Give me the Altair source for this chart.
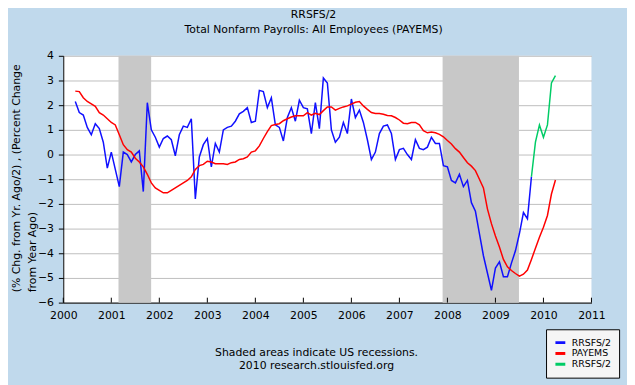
import altair as alt
import pandas as pd

FONT = "DejaVu Sans"

# month index counted from Jan 2000 (0 = Jan 2000)
blue_first = 3
blue_vals = [2.15, 1.7, 1.6, 1.1, 0.8, 1.25, 1.05, 0.5, -0.55, 0.1,
             -0.6, -1.3, 0.1, 0.0, -0.3, 0.0, 0.15, -1.5, 2.1, 1.0,
             0.7, 0.3, 0.65, 0.75, 0.6, -0.05, 0.8, 1.15, 1.1, 1.45,
             -1.8, -0.1, 0.4, 0.65, -0.5, 0.45, 0.1, 1.0, 1.1, 1.15,
             1.35, 1.65, 1.75, 1.9, 1.3, 1.35, 2.6, 2.55, 1.9, 2.3,
             1.2, 1.1, 0.55, 1.5, 1.9, 1.35, 2.2, 1.9, 1.85, 0.85,
             2.1, 1.05, 3.1, 2.9, 1.0, 0.5, 0.7, 1.3, 0.85, 2.25,
             1.5, 1.8, 1.3, 0.6, -0.2, 0.1, 0.85, 1.15, 1.2, 0.85,
             -0.2, 0.2, 0.25, 0.0, -0.2, 0.6, 0.25, 0.2, 0.3, 0.7,
             0.45, 0.45, -0.45, -0.5, -1.05, -1.15, -0.8, -1.3, -1.05, -1.95,
             -2.3, -3.2, -4.1, -4.8, -5.5, -4.6, -4.35, -4.95, -4.95, -4.4,
             -3.9, -3.2, -2.35, -2.6, -0.9]
green_first = 117
green_vals = [-0.9, 0.5, 1.2, 0.7, 1.2, 2.9, 3.2]
red_first = 3
red_vals = [2.57, 2.55, 2.3, 2.15, 2.05, 1.95, 1.7, 1.6, 1.45, 1.3,
            1.2, 0.8, 0.4, 0.2, 0.1, -0.15, -0.3, -0.5, -0.8, -1.15,
            -1.35, -1.45, -1.55, -1.55, -1.45, -1.35, -1.25, -1.15, -1.05, -0.9,
            -0.6, -0.45, -0.4, -0.27, -0.3, -0.37, -0.37, -0.37, -0.4, -0.33,
            -0.3, -0.2, -0.17, -0.1, 0.1, 0.15, 0.35, 0.65, 0.93, 1.17,
            1.22, 1.25, 1.37, 1.45, 1.52, 1.57, 1.57, 1.57, 1.7, 1.6,
            1.67, 1.62, 1.78, 1.93, 1.93, 1.8, 1.87, 1.93, 1.97, 2.04,
            2.12, 2.15, 1.97, 1.83, 1.7, 1.66, 1.66, 1.63, 1.58, 1.57,
            1.5, 1.4, 1.27, 1.25, 1.3, 1.3, 1.2, 0.97, 0.88, 0.91,
            0.88, 0.82, 0.72, 0.57, 0.43, 0.24, 0.1, -0.12, -0.33, -0.47,
            -0.65, -1.0, -1.35, -2.2, -2.8, -3.3, -3.75, -4.25, -4.55, -4.7,
            -4.82, -4.93, -4.85, -4.68, -4.25, -3.8, -3.35, -2.95, -2.47, -1.6,
            -1.03]

rec_start = [2001.15, 2007.9]
rec_end = [2001.83, 2009.49]

year_ticks = list(range(2000, 2012))
y_ticks = list(range(-6, 5))

series_names = ["RRSFS/2", "PAYEMS", "RRSFS/2 (recent)"]
series_colors = ["#1010FF", "#FF0000", "#00CC66"]

rows = []
for i, v in enumerate(blue_vals):
    rows.append({"x": 2000 + (blue_first + i) / 12, "y": v, "series": series_names[0]})
for i, v in enumerate(red_vals):
    rows.append({"x": 2000 + (red_first + i) / 12, "y": v, "series": series_names[1]})
for i, v in enumerate(green_vals):
    rows.append({"x": 2000 + (green_first + i) / 12, "y": v, "series": series_names[2]})
lines_df = pd.DataFrame(rows)
rec_df = pd.DataFrame({"x": rec_start, "x_end": rec_end})
tick_df = pd.DataFrame({"x": year_ticks})

xscale = alt.Scale(domain=[2000, 2011], nice=False, zero=False)
yscale = alt.Scale(domain=[-6, 4], nice=False, zero=False)

xaxis = alt.Axis(values=year_ticks, format="d", grid=False, ticks=False,
                 domainColor="black", domainWidth=1,
                 labelFont=FONT, labelFontSize=11, labelColor="black",
                 labelPadding=7, labelFlush=False, labelOverlap=False,
                 title=["Shaded areas indicate US recessions.", "2010 research.stlouisfed.org"],
                 titleFont=FONT, titleFontSize=11, titleFontWeight="normal", titleColor="black",
                 titleX=256, titleY=45, titleAlign="center", titleBaseline="top",
                 titleLineHeight=13)
yaxis = alt.Axis(values=y_ticks, tickCount=11, format="d", grid=True, gridColor="#BEBEBE",
                 domainColor="black", tickColor="black", tickSize=5,
                 labelFont=FONT, labelFontSize=11, labelColor="black",
                 labelPadding=5, labelOverlap=False,
                 title=["(% Chg. from Yr. Ago/2) , (Percent Change", "from Year Ago)"],
                 titleFont=FONT, titleFontSize=11, titleFontWeight="normal", titleColor="black",
                 titleAngle=270, titleAlign="left", titleBaseline="top",
                 titleX=-53, titleY=239, titleLineHeight=16)

X = alt.X("x:Q", scale=xscale, axis=xaxis)
Y = alt.Y("y:Q", scale=yscale, axis=yaxis)

rec = alt.Chart(rec_df).mark_rect(color="#C8C8C8").encode(
    x=X, x2="x_end:Q",
    y=alt.datum(4, scale=yscale, axis=yaxis), y2=alt.datum(-6)
)

ticks = alt.Chart(tick_df).mark_rule(color="black", strokeWidth=1).encode(
    x=X, y=alt.datum(-6, scale=yscale, axis=yaxis), y2=alt.datum(-5.8)
)

lines = alt.Chart(lines_df).mark_line(strokeWidth=1.5).encode(
    x=X, y=Y,
    color=alt.Color("series:N",
                    scale=alt.Scale(domain=series_names, range=series_colors),
                    legend=alt.Legend(title=None, orient="none", legendX=489, legendY=277,
                                      symbolType="stroke", symbolSize=100, symbolStrokeWidth=3,
                                      labelFont=FONT, labelFontSize=9.5, labelColor="black",
                                      labelExpr="datum.label == 'RRSFS/2 (recent)' ? 'RRSFS/2' : datum.label",
                                      fillColor="#F5F5F5", strokeColor="black", padding=8,
                                      rowPadding=0, clipHeight=11, labelOffset=5,
                                      direction="vertical")),
    detail="series:N"
)

chart = alt.layer(rec, ticks, lines).properties(
    width=535, height=250,
    autosize=alt.AutoSizeParams(type="none"),
    padding={"left": 56, "top": 46, "right": 36, "bottom": 81},
    title=alt.TitleParams(text="RRSFS/2", subtitle="Total Nonfarm Payrolls: All Employees (PAYEMS)",
                          anchor="middle", frame="group", font=FONT, fontSize=11, fontWeight="normal",
                          color="black", subtitleFont=FONT, subtitleFontSize=11, subtitleColor="black",
                          subtitlePadding=4, offset=15, dx=-14)
).configure(background="#C0D9EC").configure_view(fill="white", stroke=None)

chart.save("out.html", embed_options={"renderer": "svg", "actions": False})
